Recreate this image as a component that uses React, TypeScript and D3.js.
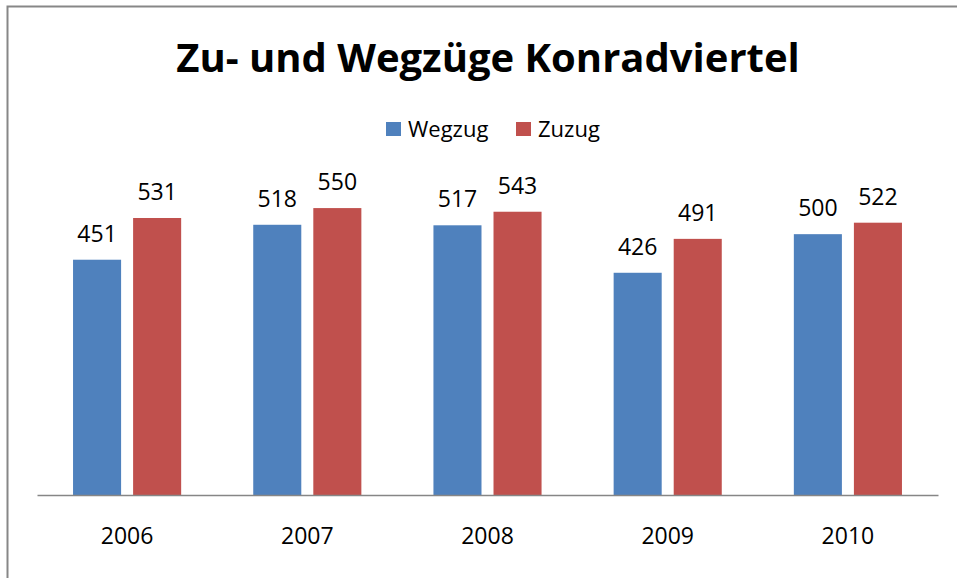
import React, { useRef, useEffect } from 'react'
import * as d3 from 'd3'

// chart data
const years = ['2006', '2007', '2008', '2009', '2010']
const wegzug = [451, 518, 517, 426, 500]
const zuzug = [531, 550, 543, 491, 522]
const seriesNames = ['Wegzug', 'Zuzug']
const seriesColors = ['#4F81BD', '#C0504D']
const title = 'Zu- und Wegzüge Konradviertel'

const W = 957
const H = 578
const FONT = 'Open Sans, sans-serif'

const App = () => {
    const chartRef = useRef<SVGSVGElement>(null)

    useEffect(() => {
        document.body.style.margin = '0'
        const svg = d3.select(chartRef.current)
        svg.selectAll('*').remove()

        svg.attr('width', W).attr('height', H).style('display', 'block')

        svg.append('rect')
            .attr('width', W).attr('height', H).attr('fill', '#fff')

        // chart border (only top and left visible in the crop)
        svg.append('path')
            .attr('d', `M7.5,${H} L7.5,6.5 L${W},6.5`)
            .attr('fill', 'none')
            .attr('stroke', '#878787')
            .attr('stroke-width', 2)

        // title
        svg.append('text')
            .attr('x', 488)
            .attr('y', 72)
            .attr('text-anchor', 'middle')
            .attr('font-family', FONT)
            .attr('font-weight', 'bold')
            .attr('font-size', 40)
            .attr('fill', '#000')
            .text(title)

        // legend
        const legendX = [386, 516]
        seriesNames.forEach((name, i) => {
            svg.append('rect')
                .attr('x', legendX[i])
                .attr('y', 122)
                .attr('width', 15)
                .attr('height', 14)
                .attr('fill', seriesColors[i])
            svg.append('text')
                .attr('x', legendX[i] + 22)
                .attr('y', 137)
                .attr('font-family', FONT)
                .attr('font-size', 22)
                .attr('fill', '#000')
                .text(name)
        })

        const x0 = d3.scaleBand()
            .domain(years)
            .range([37, 938])
            .paddingInner(0.4)
            .paddingOuter(0.2)

        const x1 = d3.scaleBand()
            .domain(seriesNames)
            .range([0, x0.bandwidth()])
            .paddingInner(0.2)

        const y = d3.scaleLinear()
            .domain([0, 600])
            .range([495, 182])

        const rows = years.map((yr, i) => ({ year: yr, values: [wegzug[i], zuzug[i]] }))

        const groups = svg.selectAll('.grp')
            .data(rows)
            .enter()
            .append('g')
            .attr('class', 'grp')
            .attr('transform', d => `translate(${x0(d.year)},0)`)

        groups.selectAll('rect')
            .data(d => d.values.map((v, i) => ({ v, name: seriesNames[i], color: seriesColors[i] })))
            .enter()
            .append('rect')
            .attr('x', d => x1(d.name) as number)
            .attr('y', d => y(d.v))
            .attr('width', x1.bandwidth())
            .attr('height', d => y(0) - y(d.v))
            .attr('fill', d => d.color)

        // value labels
        groups.selectAll('text')
            .data(d => d.values.map((v, i) => ({ v, name: seriesNames[i] })))
            .enter()
            .append('text')
            .attr('x', d => (x1(d.name) as number) + x1.bandwidth() / 2)
            .attr('y', d => y(d.v) - 18)
            .attr('text-anchor', 'middle')
            .attr('font-family', FONT)
            .attr('font-size', 23)
            .attr('fill', '#000')
            .text(d => d.v)

        // x axis
        const axis = svg.append('g')
            .attr('transform', `translate(0,${y(0)})`)
            .call(d3.axisBottom(x0).tickSize(0).tickPadding(33))
        axis.select('.domain').attr('stroke', '#868686').attr('stroke-width', 1.5)
        axis.selectAll('text')
            .attr('font-family', FONT)
            .attr('font-size', 23)
            .attr('fill', '#000')
    }, [])

    return <svg ref={chartRef}></svg>
}

export default App
